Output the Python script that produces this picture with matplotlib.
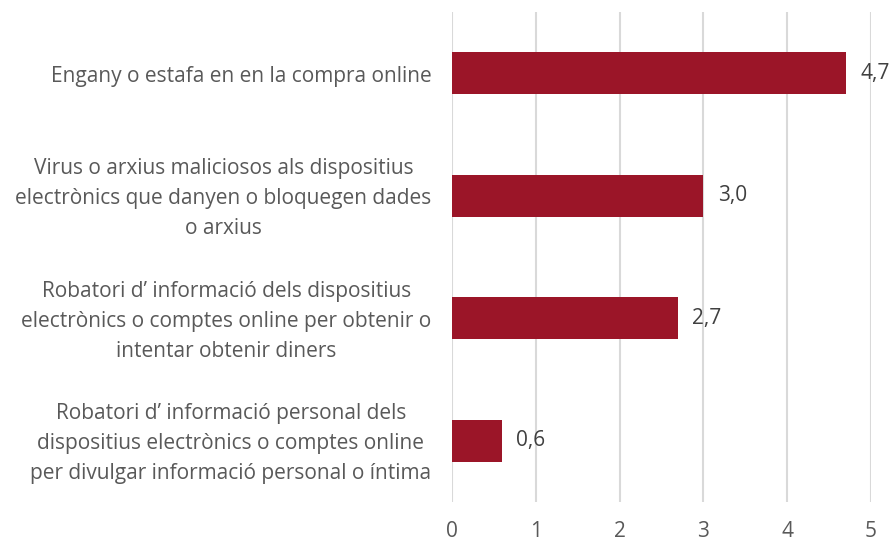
import numpy as np
import matplotlib.pyplot as plt
from matplotlib.transforms import ScaledTranslation

categories = [
    "Engany o estafa en en la compra online",
    "Virus o arxius maliciosos als dispositius\nelectrònics que danyen o bloquegen dades\no arxius",
    "Robatori d\u2019 informació dels dispositius\nelectrònics o comptes online per obtenir o\nintentar obtenir diners",
    "Robatori d\u2019 informació personal dels\ndispositius electrònics o comptes online\nper divulgar informació personal o íntima",
]
values = [4.7, 3.0, 2.7, 0.6]
xticks = [0, 1, 2, 3, 4, 5]

plt.rcParams['font.family'] = ['Open Sans', 'DejaVu Sans']

fig = plt.figure(figsize=(8.92, 5.41), dpi=100)
ax = fig.add_axes([0.5067, 0.0721, 0.4697, 0.9057])

y = np.arange(len(categories))
ax.barh(y, values, height=0.345, color='#9b1528', zorder=3)
for yi, v in zip(y, values):
    ax.text(v + 0.17, yi, f"{v:.1f}".replace('.', ','), va='center', ha='left',
            fontsize=15, color='#404040')

ax.set_ylim(len(categories) - 0.5, -0.5)
ax.set_xlim(0, 5)
ax.set_xticks(xticks)
ax.set_xticklabels([str(t) for t in xticks], fontsize=15, color='#595959')
ax.set_yticks(y)
ax.set_yticklabels([])

# category labels drawn as text so they can be nudged a bit
lbl_tr = ax.get_yaxis_transform() + ScaledTranslation(-0.205, -0.03, fig.dpi_scale_trans)
for yi, cat in zip(y, categories):
    ax.text(0, yi, cat, transform=lbl_tr, ha='right', va='center',
            multialignment='center', linespacing=1.55,
            fontsize=15, color='#595959')

ax.tick_params(axis='both', length=0)
ax.tick_params(axis='x', pad=14)
ax.grid(axis='x', color='#d9d9d9', linewidth=1.5, zorder=0)
for s in ax.spines.values():
    s.set_visible(False)

fig.savefig('out.png', dpi=100)
